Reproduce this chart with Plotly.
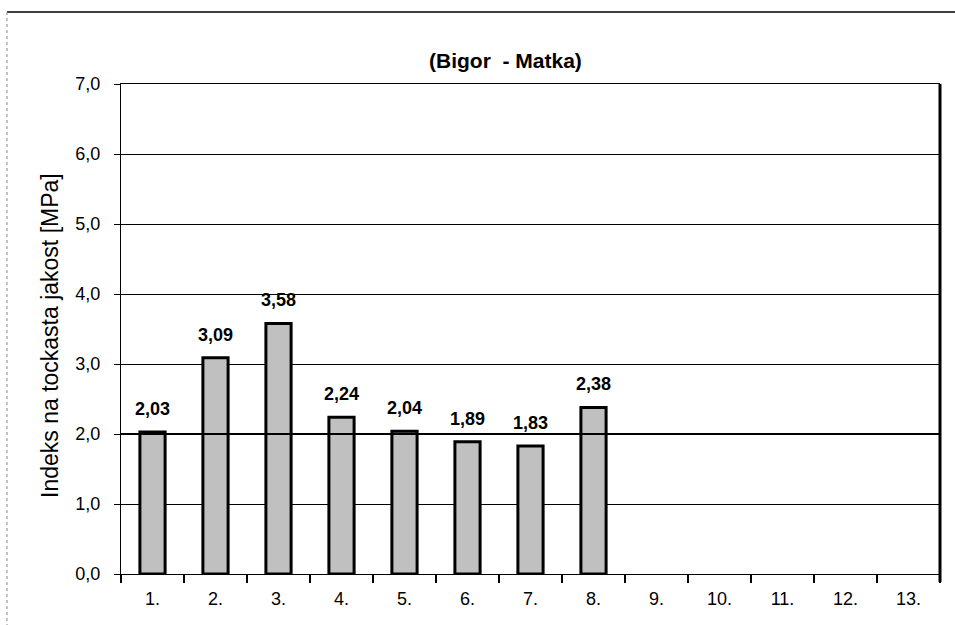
import plotly.graph_objects as go

categories = ["1.", "2.", "3.", "4.", "5.", "6.", "7.", "8.", "9.", "10.", "11.", "12.", "13."]
values = [2.03, 3.09, 3.58, 2.24, 2.04, 1.89, 1.83, 2.38, None, None, None, None, None]
labels = ["2,03", "3,09", "3,58", "2,24", "2,04", "1,89", "1,83", "2,38"]
y_ticks = [0, 1, 2, 3, 4, 5, 6, 7]
title_text = "(Bigor  - Matka)"
y_title = "Indeks na tockasta jakost [MPa]"

W, H = 955, 625
L, R, T, B = 121, 940, 84, 574
pw, ph = R - L, B - T

def px(x):
    return (x - L) / pw

def py(y):
    return (B - y) / ph

fig = go.Figure()
fig.add_trace(go.Bar(
    x=categories, y=values,
    marker=dict(color="#C0C0C0", line=dict(color="black", width=3)),
    hoverinfo="skip",
))

for i, (v, t) in enumerate(zip(values, labels)):
    fig.add_annotation(x=i, y=v, xref="x", yref="y", text="<b>" + t + "</b>", showarrow=False,
                       yanchor="middle", yshift=23,
                       font=dict(family="Liberation Sans", size=18, color="black"))

fig.add_annotation(x=px(505), y=py(47), xref="paper", yref="paper", text="<b>" + title_text + "</b>",
                   showarrow=False, font=dict(family="Liberation Sans", size=21, color="black"))
fig.add_annotation(x=px(35), y=py(336), xref="paper", yref="paper", text=y_title, textangle=-90,
                   showarrow=False, font=dict(family="Liberation Sans", size=23, color="black"))

# thick 2.0 gridline
fig.add_shape(type="line", xref="paper", yref="y", x0=0, x1=1, y0=2, y1=2,
              line=dict(color="black", width=2))
# thick right border
fig.add_shape(type="line", xref="paper", yref="paper", x0=1, x1=1, y0=py(582), y1=1,
              line=dict(color="black", width=3))
# outer frame
fig.add_shape(type="line", xref="paper", yref="paper", x0=px(7), x1=px(956), y0=py(12), y1=py(12),
              line=dict(color="black", width=1.5))
fig.add_shape(type="line", xref="paper", yref="paper", x0=px(7), x1=px(7), y0=py(12), y1=py(626),
              line=dict(color="#888888", width=1, dash="dot"))

fig.update_layout(
    width=W, height=H,
    margin=dict(l=L, r=W - R, t=T, b=H - B),
    paper_bgcolor="white", plot_bgcolor="white",
    showlegend=False, bargap=0.6,
    separators=", ",
    font=dict(family="Liberation Sans", color="black"),
)
fig.update_xaxes(
    type="category", categoryorder="array", categoryarray=categories,
    tickson="boundaries", ticks="outside", ticklen=8, tickwidth=2, tickcolor="black",
    showline=True, linecolor="black", linewidth=1, mirror=True,
    showgrid=False, tickfont=dict(size=18, color="black"), ticklabelstandoff=8,
)
fig.update_yaxes(
    range=[0, 7], tickvals=y_ticks, tickformat=".1f",
    ticks="outside", ticklen=6, tickcolor="black", tickwidth=1,
    showline=True, linecolor="black", linewidth=1,
    showgrid=True, gridcolor="black", gridwidth=1,
    zeroline=False, tickfont=dict(size=18, color="black"), ticklabelstandoff=10,
)

fig.write_html("out.html", config={"displayModeBar": False},
               post_script="document.body.style.margin='0';")
